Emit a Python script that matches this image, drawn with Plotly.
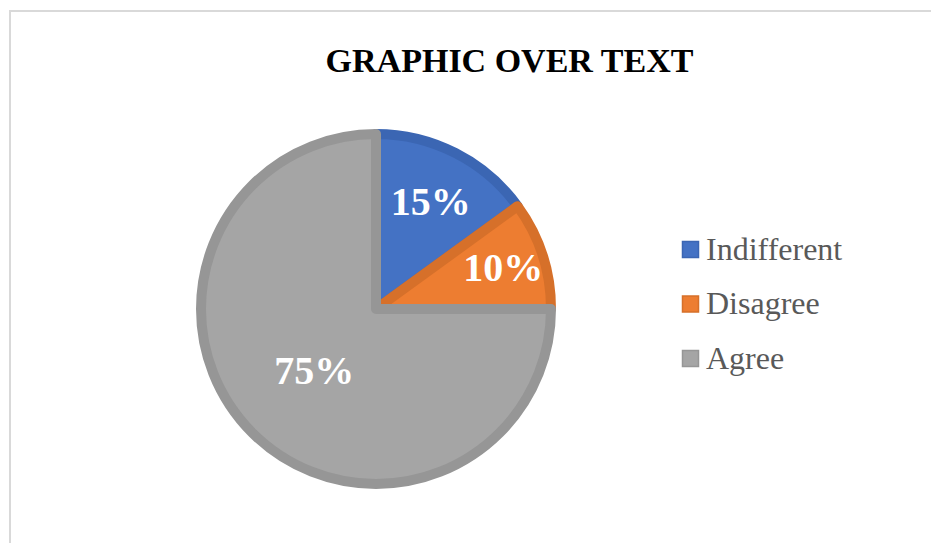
import plotly.graph_objects as go

labels = ["Indifferent", "Disagree", "Agree"]
values = [15, 10, 75]
fill_colors = ["#4472C4", "#ED7D31", "#A5A5A5"]
edge_colors = ["#3B66B3", "#D6702A", "#969696"]
title_text = "GRAPHIC OVER TEXT"

W, H = 931, 543
cx, cy, r = 376, 309, 175
SERIF = "Liberation Serif, Times New Roman, serif"

fig = go.Figure()
fig.add_trace(go.Pie(
    labels=labels,
    values=values,
    sort=False,
    direction="clockwise",
    rotation=0,
    marker=dict(colors=fill_colors, line=dict(color=edge_colors, width=10)),
    texttemplate="<b>%{percent:.0%}</b>",
    textposition="inside",
    insidetextorientation="horizontal",
    textfont=dict(family=SERIF, size=40, color="white"),
    hoverinfo="label+percent",
    showlegend=False,
    domain=dict(x=[(cx - r) / W, (cx + r) / W], y=[(H - cy - r) / H, (H - cy + r) / H]),
))

# Manual legend (square + label) to match the reference spacing
shapes = [dict(type="rect", xref="paper", yref="paper", x0=10 / W, x1=1.2, y0=-0.2, y1=1 - 11 / H,
               line=dict(color="#D9D9D9", width=2), fillcolor="rgba(0,0,0,0)", layer="below")]
annotations = []
row_y = [249.5, 304, 358.5]
for lab, fc, ec, yy in zip(labels, fill_colors, edge_colors, row_y):
    shapes.append(dict(type="rect", xref="paper", yref="paper",
                       x0=682.5 / W, x1=698.5 / W, y0=(H - yy - 8) / H, y1=(H - yy + 8) / H,
                       line=dict(color=ec, width=1.5), fillcolor=fc))
    annotations.append(dict(text=lab, xref="paper", yref="paper", x=704 / W, y=(H - yy + 1) / H,
                            xanchor="left", yanchor="middle", showarrow=False,
                            font=dict(family=SERIF, size=32, color="#595959")))

fig.update_layout(
    width=W, height=H,
    margin=dict(l=0, r=0, t=0, b=0),
    paper_bgcolor="white",
    plot_bgcolor="white",
    uniformtext=dict(minsize=40, mode="show"),
    title=dict(text="<b>" + title_text + "</b>", x=509.5 / W, xanchor="center",
               y=1 - 60 / H, yanchor="middle",
               font=dict(family=SERIF, size=34, color="black")),
    shapes=shapes,
    annotations=annotations,
)

fig.write_html("out.html")
